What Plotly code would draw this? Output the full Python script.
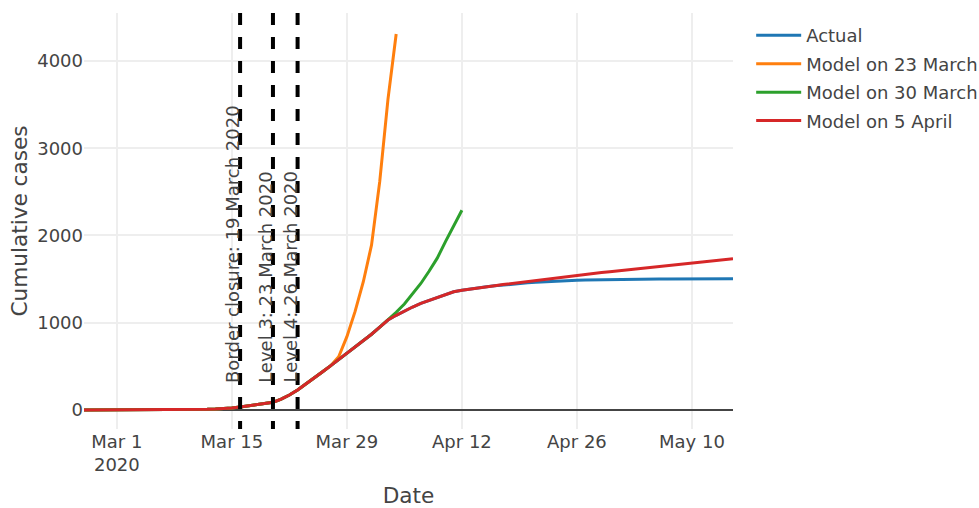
import pandas as pd
import plotly.graph_objects as go

# Daily cumulative case counts, starting 26 Feb 2020
start_date = "2020-02-26"

actual = [0, 0, 1, 1, 1, 2, 2, 3, 3, 4, 4, 5, 5, 5, 6, 8, 11, 15,
          22, 34, 46, 58, 72, 88, 125, 172, 229, 295, 365, 435, 505, 578, 649, 718, 790, 868, 950, 1031,
          1085, 1135, 1180, 1222, 1255, 1290, 1325, 1355, 1372, 1387, 1401,
          1412, 1423, 1433, 1442, 1450, 1457, 1463, 1469, 1474, 1479, 1484, 1488,
          1490, 1492, 1494, 1495, 1496, 1497, 1498, 1499, 1500, 1501, 1501, 1502, 1502, 1503,
          1503, 1504, 1504, 1505, 1505]

model_23_march = [0, 0, 1, 1, 1, 2, 2, 3, 3, 4, 4, 5, 5, 5, 6, 8, 11, 15,
                  22, 34, 46, 58, 72, 88, 125, 172, 229, 295, 365, 435, 505,
                  610, 840, 1130, 1470, 1890, 2620, 3560, 4310]

model_30_march = [0, 0, 1, 1, 1, 2, 2, 3, 3, 4, 4, 5, 5, 5, 6, 8, 11, 15,
                  22, 34, 46, 58, 72, 88, 125, 172, 229, 295, 365, 435, 505, 578, 649, 718, 790, 868, 950, 1031,
                  1120, 1215, 1330, 1450, 1590, 1740, 1930, 2105, 2290]

model_5_april = [0, 0, 1, 1, 1, 2, 2, 3, 3, 4, 4, 5, 5, 5, 6, 8, 11, 15,
                 22, 34, 46, 58, 72, 88, 125, 172, 229, 295, 365, 435, 505, 578, 649, 718, 790, 868, 950, 1031,
                 1085, 1135, 1180, 1222, 1255, 1290, 1325, 1355, 1372, 1387, 1401,
                 1413, 1425, 1437, 1449, 1461, 1473, 1485, 1497, 1509, 1521, 1533, 1546,
                 1556, 1565, 1575, 1584, 1594, 1604, 1613, 1623, 1632, 1642, 1652, 1661, 1671, 1680,
                 1691, 1701, 1712, 1722, 1733]

series_names = ["Actual", "Model on 23 March", "Model on 30 March", "Model on 5 April"]
series_values = [actual, model_23_march, model_30_march, model_5_april]
series_colors = ["#1f77b4", "#ff7f0e", "#2ca02c", "#d62728"]

# Policy events; the marker lines sit 3 days before the announced date
event_labels = ["Border closure", "Level 3", "Level 4"]
event_dates = ["2020-03-19", "2020-03-23", "2020-03-26"]
event_lead_days = 3

FONT = "DejaVu Sans, Verdana, sans-serif"
TEXT = "#444"

fig = go.Figure()
for name, values, color in zip(series_names, series_values, series_colors):
    fig.add_trace(go.Scatter(
        x=pd.date_range(start_date, periods=len(values), freq="D"),
        y=values,
        mode="lines",
        name=name,
        legendgroup=name,
        line=dict(color=color, width=3),
    ))

for label, date in zip(event_labels, event_dates):
    d = pd.Timestamp(date)
    xpos = d - pd.Timedelta(days=event_lead_days)
    fig.add_shape(type="line", xref="x", yref="paper",
                  x0=xpos, x1=xpos, y0=1, y1=0,
                  line=dict(color="black", width=4, dash="dash"))
    fig.add_annotation(x=xpos, xref="x", y=0.106, yref="paper",
                       text=f"{label}: {d.day} {d.strftime('%B %Y')}",
                       textangle=-90, showarrow=False,
                       xanchor="center", yanchor="bottom", xshift=-7,
                       font=dict(family=FONT, size=18, color=TEXT))

fig.update_layout(
    template="none",
    width=979, height=508,
    margin=dict(l=84, r=246, t=13, b=79, autoexpand=False),
    paper_bgcolor="white", plot_bgcolor="white",
    font=dict(family=FONT, size=18, color=TEXT),
    legend=dict(x=1.028, y=0.99, xanchor="left", yanchor="top",
                itemwidth=45, tracegroupgap=2,
                font=dict(family=FONT, size=18, color=TEXT)),
    xaxis=dict(
        title=dict(text="Date", font=dict(size=21.6)),
        range=["2020-02-26", "2020-05-15"],
        dtick=14 * 86400000, tick0="2020-03-01",
        showgrid=True, gridcolor="#eee", gridwidth=1.5,
        ticks="", showline=False, zeroline=False,
    ),
    yaxis=dict(
        title=dict(text="Cumulative cases", font=dict(size=21.6), standoff=3),
        range=[-218, 4550],
        dtick=1000,
        showgrid=True, gridcolor="#eee", gridwidth=1.5,
        zeroline=True, zerolinecolor="#444", zerolinewidth=1.5,
        ticks="", showline=False,
    ),
)

fig.write_html("out.html")
